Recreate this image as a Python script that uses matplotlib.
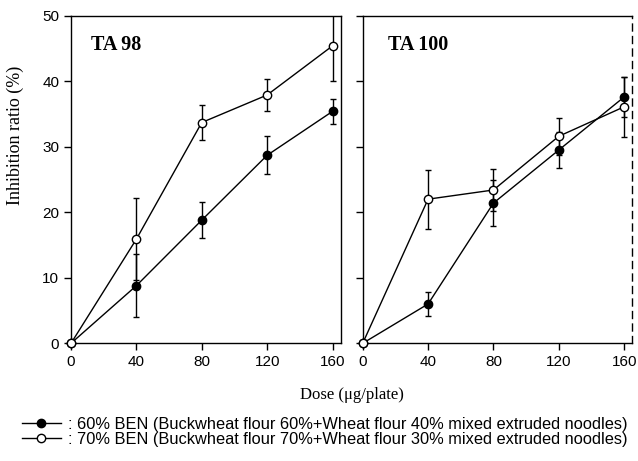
import numpy as np
from matplotlib import pyplot as plt
from matplotlib.lines import Line2D

# Dose values (ug/plate)
dose = [0, 40, 80, 120, 160]

# TA 98
ta98_60 = [0, 8.8, 18.8, 28.7, 35.4]
ta98_60_err = [0, 4.8, 2.7, 2.9, 1.9]
ta98_70 = [0, 15.9, 33.7, 37.9, 45.4]
ta98_70_err = [0, 6.3, 2.7, 2.4, 5.4]

# TA 100
ta100_60 = [0, 6.0, 21.4, 29.5, 37.6]
ta100_60_err = [0, 1.8, 3.5, 2.8, 3.0]
ta100_70 = [0, 22.0, 23.4, 31.6, 36.1]
ta100_70_err = [0, 4.5, 3.2, 2.8, 4.6]

panel_titles = ['TA 98', 'TA 100']
legend_labels = [': 60% BEN (Buckwheat flour 60%+Wheat flour 40% mixed extruded noodles)',
                 ': 70% BEN (Buckwheat flour 70%+Wheat flour 30% mixed extruded noodles)']

serif = 'Liberation Serif'
sans = 'Liberation Sans'

fig = plt.figure(figsize=(6.38, 4.61), dpi=100)
ax1 = fig.add_axes([0.1113, 0.2553, 0.4227, 0.7106])
ax2 = fig.add_axes([0.5685, 0.2553, 0.4226, 0.7106])


def draw_panel(ax, y60, e60, y70, e70, title, tx):
    for y, e, fc, z in [(y60, e60, 'black', 3), (y70, e70, 'white', 4)]:
        cont = ax.errorbar(dose, y, yerr=e, fmt='o-', color='black', mfc=fc, mec='black',
                           ms=6, lw=1, elinewidth=1, capsize=2.5, zorder=z)
        cont.lines[0].set_clip_on(False)  # markers at 0 sit on the spine
    ax.set_xlim(0, 165)
    ax.set_ylim(0, 50)
    ax.set_xticks([0, 40, 80, 120, 160])
    ax.set_yticks([0, 10, 20, 30, 40, 50])
    ax.tick_params(direction='out', length=5, width=1, labelsize=11)
    for lab in ax.get_xticklabels() + ax.get_yticklabels():
        lab.set_fontfamily(sans)
    for sp in ax.spines.values():
        sp.set_linewidth(1)
    ax.text(tx, 45.5, title, fontfamily=serif, fontweight='bold', fontsize=14.5,
            va='center', ha='left')


draw_panel(ax1, ta98_60, ta98_60_err, ta98_70, ta98_70_err, panel_titles[0], 12.5)
draw_panel(ax2, ta100_60, ta100_60_err, ta100_70, ta100_70_err, panel_titles[1], 15.5)

ax2.set_yticklabels([])
ax2.spines['right'].set_linestyle((0, (5, 4)))

fig.text(0.024, 0.707, 'Inhibition ratio (%)', fontfamily=serif, fontsize=13,
         rotation=90, ha='center', va='center')
fig.text(0.552, 0.143, 'Dose (\u03bcg/plate)', fontfamily=serif, fontsize=12,
         ha='center', va='center')

handles = [Line2D([], [], color='black', marker='o', mfc='black', mec='black', ms=6, lw=1),
           Line2D([], [], color='black', marker='o', mfc='white', mec='black', ms=6, lw=1)]
fig.legend(handles, legend_labels, loc='lower left', bbox_to_anchor=(0.011, -0.002),
           frameon=False, handlelength=2.4, handletextpad=0.4, labelspacing=0.0,
           prop={'family': sans, 'size': 11.8})

fig.savefig('out.png', dpi=100)
